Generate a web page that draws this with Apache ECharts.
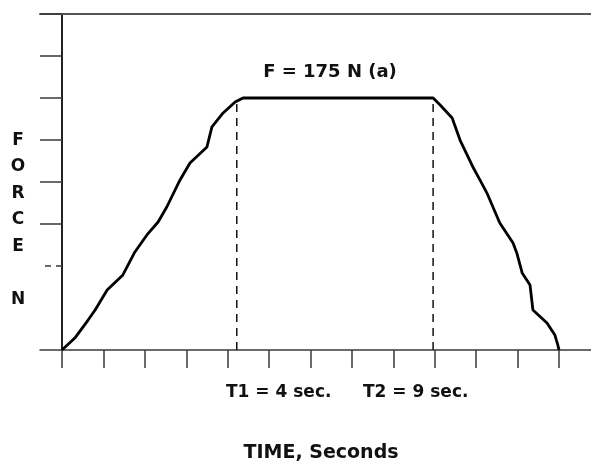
<!DOCTYPE html>
<html>
<head>
<meta charset="utf-8">
<script src="https://cdn.jsdelivr.net/npm/echarts@6/dist/echarts.min.js"></script>
<style>
html,body{margin:0;padding:0;background:#fff;}
#c{width:591px;height:464px;}
</style>
</head>
<body>
<div id="c"></div>
<script>
// Time (s) and force (N)
var timeValues = [0, 0.31, 0.63, 0.80, 1.09, 1.47, 1.76, 2.05, 2.32, 2.53, 2.85, 3.09, 3.50, 3.62, 3.89, 4.18, 4.37,
  8.96, 9.13, 9.42, 9.61, 9.92, 10.09, 10.26, 10.57, 10.89, 10.98, 11.11, 11.30, 11.37, 11.71, 11.90, 11.97, 12.0];
var forceValues = [0, 8.3, 20.8, 27.8, 41.7, 52.1, 68.1, 79.9, 88.9, 99.3, 118.1, 129.9, 141.0, 154.9, 164.6, 172.2, 175,
  175, 170.1, 161.1, 145.8, 127.1, 118.1, 109.0, 88.2, 74.3, 67.4, 53.5, 45.1, 27.8, 18.8, 10.4, 3.5, 0];
var plateauForce = 175;
var t1 = 4.22;
var t2 = 8.96;
var xTickValues = [0,1,2,3,4,5,6,7,8,9,10,11,12];
var yTickUnits = [3,4,5,6,7,8];
var yDottedTickUnits = [2];
var forceLabel = 'F = 175 N (a)';
var t1Label = 'T1 = 4 sec.';
var t2Label = 'T2 = 9 sec.';
var xTitle = 'TIME, Seconds';
var yTitle = 'F\nO\nR\nC\nE\n\nN';

var unitForce = plateauForce / 6;
var yMax = unitForce * 8;
var xMin = -0.531, xMax = 12.772;

var mainData = timeValues.map(function (t, i) { return [t, forceValues[i]]; });
var axisColor = '#3a3a3a';
var font = '"DejaVu Sans", sans-serif';

var chart = echarts.init(document.getElementById('c'), null, {renderer: 'canvas'});
chart.setOption({
  animation: false,
  backgroundColor: '#ffffff',
  grid: {left: 40, right: 0, top: 14, bottom: 114, containLabel: false},
  xAxis: [{
    type: 'value', min: xMin, max: xMax, position: 'bottom',
    axisLine: {show: true, onZero: false, lineStyle: {color: axisColor, width: 1.5}},
    axisTick: {show: true, inside: false, length: 18, customValues: xTickValues, lineStyle: {color: axisColor, width: 1.5}},
    axisLabel: {show: false},
    splitLine: {show: false}
  }, {
    type: 'value', min: xMin, max: xMax, position: 'top',
    axisLine: {show: true, onZero: false, lineStyle: {color: '#555', width: 2}},
    axisTick: {show: false}, axisLabel: {show: false}, splitLine: {show: false}
  }],
  yAxis: [{
    type: 'value', min: 0, max: yMax,
    axisLine: {show: true, onZero: true, lineStyle: {color: '#222', width: 2}},
    axisTick: {show: true, inside: false, length: 22, customValues: yTickUnits.map(function (u) { return u * unitForce; }),
      lineStyle: {color: axisColor, width: 1.5}},
    axisLabel: {show: false},
    splitLine: {show: false}
  }, {
    type: 'value', min: 0, max: yMax, position: 'left',
    axisLine: {show: false, onZero: true},
    axisTick: {show: true, inside: false, length: 22, customValues: yDottedTickUnits.map(function (u) { return u * unitForce; }),
      lineStyle: {color: axisColor, width: 1.5, type: [6, 5]}},
    axisLabel: {show: false},
    splitLine: {show: false}
  }],
  graphic: [
    {type: 'text', style: {text: forceLabel, x: 330, y: 72, align: 'center', verticalAlign: 'middle', font: 'bold 18px ' + font, fill: '#111'}},
    {type: 'text', style: {text: t1Label, x: 226, y: 393, align: 'left', verticalAlign: 'middle', font: 'bold 17px ' + font, fill: '#111'}},
    {type: 'text', style: {text: t2Label, x: 363, y: 393, align: 'left', verticalAlign: 'middle', font: 'bold 17px ' + font, fill: '#111'}},
    {type: 'text', style: {text: xTitle, x: 321, y: 453, align: 'center', verticalAlign: 'middle', font: 'bold 19px ' + font, fill: '#111'}},
    {type: 'text', style: {text: yTitle, x: 18, y: 220, align: 'center', verticalAlign: 'middle', font: 'bold 17px ' + font, lineHeight: 26.5, fill: '#111'}}
  ],
  series: [{
    type: 'line', data: mainData, showSymbol: false, symbol: 'none', smooth: false,
    lineStyle: {color: '#000', width: 2.8}, z: 5
  }, {
    type: 'line', data: [[t1, 0], [t1, plateauForce]], symbol: 'none',
    lineStyle: {color: '#111', width: 1.5, type: [8, 6]}, z: 4
  }, {
    type: 'line', data: [[t2, 0], [t2, plateauForce]], symbol: 'none',
    lineStyle: {color: '#111', width: 1.5, type: [8, 6]}, z: 4
  }]
});
</script>
</body>
</html>
